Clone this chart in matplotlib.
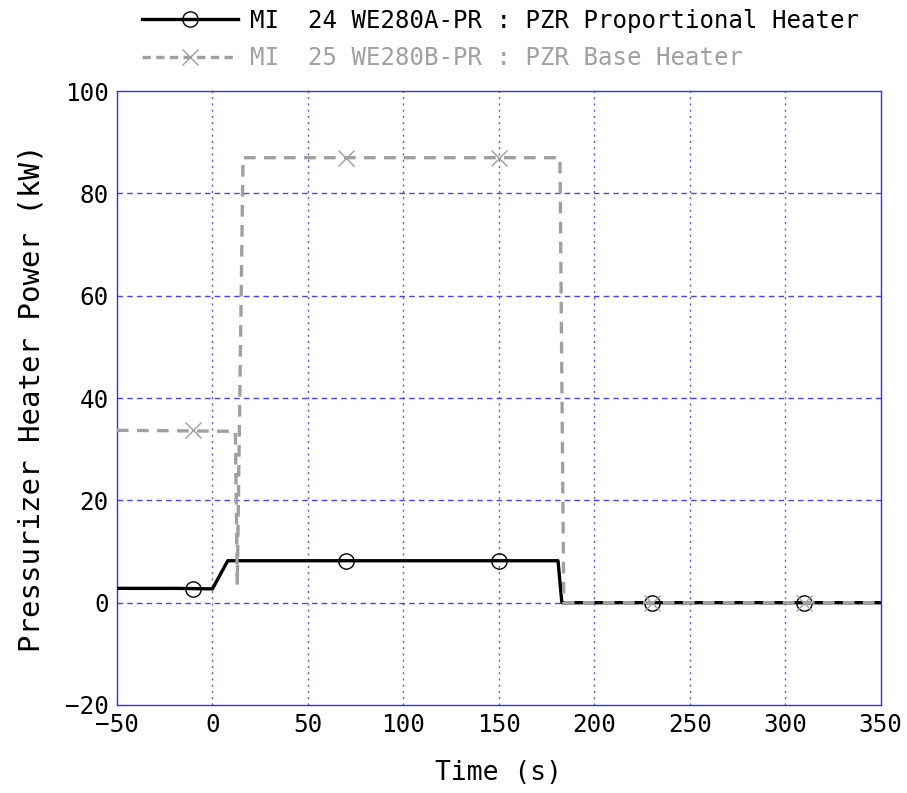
import matplotlib.pyplot as plt
from matplotlib.lines import Line2D

# Proportional heater (MI 24)
prop_t = [-50, -20, 0, 8, 181, 183, 350]
prop_kw = [2.8, 2.8, 2.7, 8.2, 8.2, 0.0, 0.0]
prop_mark_t = [-10, 70, 150, 230, 310]
prop_mark_kw = [2.6, 8.2, 8.2, 0.0, 0.0]

# Base heater (MI 25)
base_t = [-50, 12, 13, 16, 182, 184, 350]
base_kw = [33.7, 33.5, 3.5, 87.0, 87.0, 0.0, 0.0]
base_mark_t = [-10, 70, 150, 230, 310]
base_mark_kw = [33.7, 87.0, 87.0, 0.0, 0.0]

labels = ["MI  24 WE280A-PR : PZR Proportional Heater",
          "MI  25 WE280B-PR : PZR Base Heater"]

GREY = "#a0a0a0"
BLUE = "#3030ff"

plt.rcParams['font.family'] = ['DejaVu Sans Mono']

fig = plt.figure(figsize=(9.07, 7.93), dpi=100)
ax = fig.add_axes([0.129, 0.111, 0.842, 0.774])

ax.plot(prop_t, prop_kw, color="black", lw=2.4, zorder=3)
ax.plot(prop_mark_t, prop_mark_kw, ls="none", marker="o", ms=11,
        mfc="none", mec="black", mew=1.0, zorder=4)
ax.plot(base_t, base_kw, color=GREY, lw=2.4, ls=(0, (3.5, 2.5)), zorder=5)
ax.plot(base_mark_t, base_mark_kw, ls="none", marker="x", ms=11,
        mec=GREY, mew=1.0, zorder=6)

ax.set_xlim(-50, 350)
ax.set_ylim(-20, 100)
ax.set_xticks(range(-50, 351, 50))
ax.set_yticks(range(-20, 101, 20))
ax.tick_params(length=0, labelsize=17.5, pad=6)

for x in range(0, 350, 50):
    ax.axvline(x, color=BLUE, lw=1.0, ls=(0, (1.5, 3)), alpha=0.8, zorder=1)
for y in range(0, 100, 20):
    ax.axhline(y, color=BLUE, lw=1.0, ls=(0, (4, 3)), alpha=0.9, zorder=1)
for s in ax.spines.values():
    s.set_color(BLUE)
    s.set_linewidth(1.0)

ax.set_xlabel("Time (s)", fontsize=19, labelpad=16)
ax.set_ylabel("Pressurizer Heater Power (kW)", fontsize=21, labelpad=14)

handles = [
    Line2D([], [], color="black", lw=2.4, marker="o", ms=11, mfc="none",
           mec="black", mew=1.0),
    Line2D([], [], color=GREY, lw=2.4, ls=(0, (2.5, 1.6)), marker="x", ms=11,
           mec=GREY, mew=1.0),
]
leg = ax.legend(handles, labels, loc="lower left", bbox_to_anchor=(0.02, 1.019),
                frameon=False, fontsize=17.3, handlelength=4.0, handletextpad=0.5,
                labelspacing=0.55, borderaxespad=0.0, markerscale=1.0)
for txt, col in zip(leg.get_texts(), ["black", GREY]):
    txt.set_color(col)

fig.savefig("out.png", dpi=100)
